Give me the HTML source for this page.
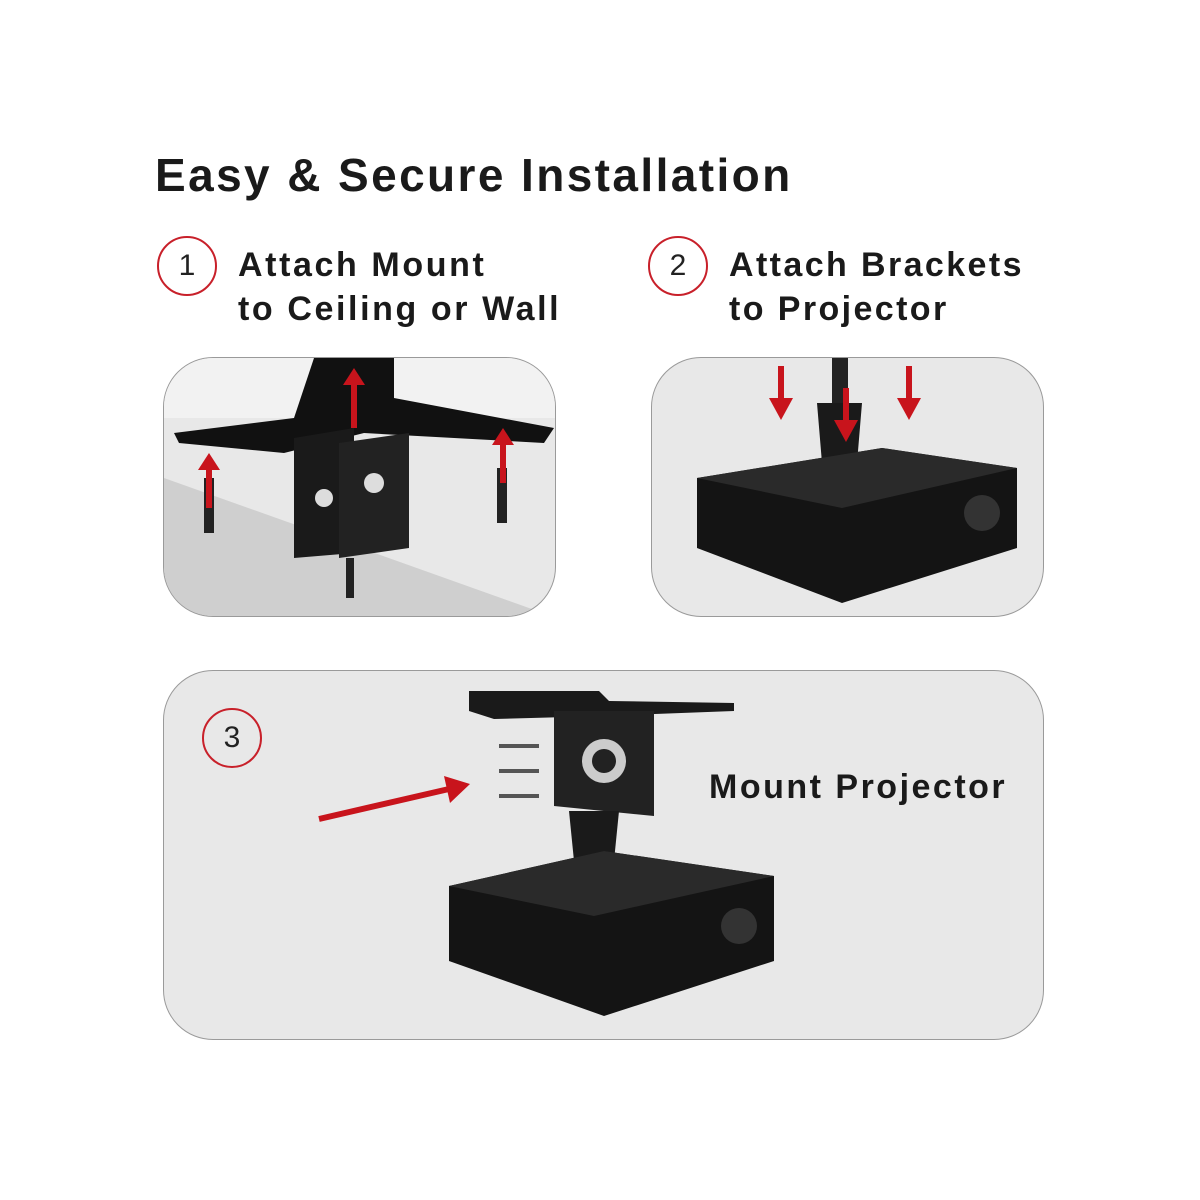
<!DOCTYPE html>
<html><head><style>
body{margin:0;width:1200px;height:1200px;background:#fff;position:relative;font-family:"Liberation Sans",sans-serif;overflow:hidden}
.t{position:absolute;color:#1a1a1a;font-weight:bold;white-space:nowrap}
.c{position:absolute;border:2px solid #c8202a;border-radius:50%;box-sizing:border-box;text-align:center;font-size:30px;color:#222}
.p{position:absolute;background:#e8e8e8;border:1.5px solid #9a9a9a;border-radius:50px;box-sizing:border-box;overflow:hidden}
</style></head><body>
<div class="t" style="left:155px;top:148px;font-size:46px;letter-spacing:2.4px">Easy &amp; Secure Installation</div>
<div class="c" style="left:157px;top:236px;width:60px;height:60px;line-height:56px">1</div>
<div class="t" style="left:238px;top:243px;font-size:34px;line-height:44px;letter-spacing:2.6px">Attach Mount<br>to Ceiling or Wall</div>
<div class="c" style="left:648px;top:236px;width:60px;height:60px;line-height:56px">2</div>
<div class="t" style="left:729px;top:243px;font-size:34px;line-height:44px;letter-spacing:2.4px">Attach Brackets<br>to Projector</div>

<div class="p" style="left:163px;top:357px;width:393px;height:260px">
<svg width="393" height="260" style="position:absolute;left:0;top:0">
<polygon points="0,0 393,0 393,60 0,60" fill="#f2f2f2"/>
<polygon points="0,120 393,260 0,260" fill="#cfcfcf"/>
<polygon points="150,0 230,0 230,40 390,70 380,85 200,75 120,95 15,85 10,75 130,60" fill="#111"/>
<polygon points="130,80 190,70 190,195 130,200" fill="#1a1a1a"/>
<polygon points="175,85 245,75 245,190 175,200" fill="#222"/>
<circle cx="160" cy="140" r="9" fill="#ddd"/><circle cx="210" cy="125" r="10" fill="#ddd"/>
<rect x="40" y="120" width="10" height="55" fill="#222"/><rect x="333" y="110" width="10" height="55" fill="#222"/>
<rect x="182" y="200" width="8" height="40" fill="#222"/>
<g fill="#c8141c"><rect x="42" y="110" width="6" height="40"/><polygon points="34,112 56,112 45,95"/>
<rect x="336" y="85" width="6" height="40"/><polygon points="328,87 350,87 339,70"/>
<rect x="187" y="25" width="6" height="45"/><polygon points="179,27 201,27 190,10"/></g>
</svg></div>

<div class="p" style="left:651px;top:357px;width:393px;height:260px">
<svg width="393" height="260" style="position:absolute;left:0;top:0">
<rect x="180" y="0" width="16" height="50" fill="#222"/>
<polygon points="165,45 210,45 205,105 170,105" fill="#1a1a1a"/>
<polygon points="45,120 230,90 365,110 365,190 190,245 45,190" fill="#141414"/>
<polygon points="45,120 230,90 365,110 190,150" fill="#2a2a2a"/>
<circle cx="330" cy="155" r="18" fill="#333"/>
<g fill="#c8141c"><rect x="126" y="8" width="6" height="35"/><polygon points="117,40 141,40 129,62"/>
<rect x="254" y="8" width="6" height="35"/><polygon points="245,40 269,40 257,62"/>
<rect x="191" y="30" width="6" height="35"/><polygon points="182,62 206,62 194,84"/></g>
</svg></div>

<div class="p" style="left:163px;top:670px;width:881px;height:370px">
<div class="c" style="left:38px;top:37px;width:60px;height:60px;line-height:56px;position:absolute">3</div>
<div class="t" style="left:545px;top:97px;font-size:34px;letter-spacing:2.5px">Mount Projector</div>
<svg width="881" height="370" style="position:absolute;left:0;top:0">
<polygon points="305,20 435,20 445,30 570,32 570,40 440,45 330,48 305,40" fill="#1a1a1a"/>
<polygon points="390,40 490,40 490,145 390,135" fill="#222"/>
<circle cx="440" cy="90" r="22" fill="#ccc"/><circle cx="440" cy="90" r="12" fill="#222"/>
<polygon points="405,140 455,140 450,190 410,190" fill="#1a1a1a"/>
<polygon points="285,215 440,180 610,205 610,290 440,345 285,290" fill="#141414"/>
<polygon points="285,215 440,180 610,205 430,245" fill="#2a2a2a"/>
<circle cx="575" cy="255" r="18" fill="#333"/>
<g stroke="#555" stroke-width="4"><line x1="335" y1="75" x2="375" y2="75"/><line x1="335" y1="100" x2="375" y2="100"/><line x1="335" y1="125" x2="375" y2="125"/></g>
<line x1="155" y1="148" x2="285" y2="118" stroke="#c8141c" stroke-width="6"/>
<polygon points="280,105 306,113 286,132" fill="#c8141c"/>
</svg></div>
</body></html>
